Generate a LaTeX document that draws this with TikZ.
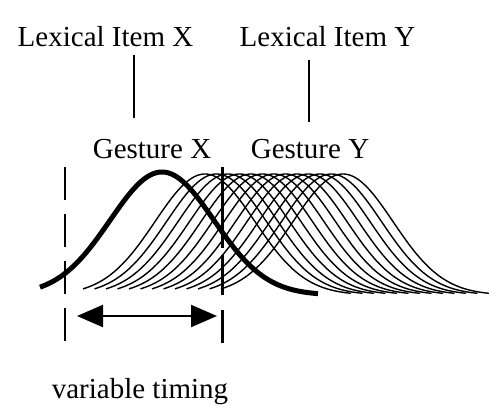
\documentclass[tikz,border=0pt]{standalone}
\usepackage{fontspec}
\setmainfont{Liberation Serif}
\usetikzlibrary{arrows.meta}
\begin{document}
\begin{tikzpicture}[x=1pt, y=-1pt, every node/.style={font=\fontsize{29}{34}\selectfont, inner sep=0pt}]
\useasboundingbox (0,0) rectangle (489,408);
\node[anchor=base] (lexX) at (105.5,46) {Lexical Item X};
\node[anchor=base] (lexY) at (327.5,46) {Lexical Item Y};
\node[anchor=base] (gesX) at (152,158) {Gesture X};
\node[anchor=base] (gesY) at (310,158) {Gesture Y};
\node[anchor=base] (timing) at (140,398) {variable timing};
% ticks from the lexical items
\coordinate (tXa) at (134,55); \coordinate (tXb) at (134,118);
\coordinate (tYa) at (309,60); \coordinate (tYb) at (309,122);
\draw[line width=1.8pt] (tXa) -- (tXb);
\draw[line width=1.8pt] (tYa) -- (tYb);
% gesture Y at shifted timings
\foreach \i in {0,...,12}{
  \pgfmathsetmacro{\mu}{205+11.5*\i}
  \draw[line width=1.4pt, domain={\mu-122}:{\mu+146}, samples=90, smooth]
    plot (\x, {295-121*exp(-((\x-\mu)/50)^2/2)});
}
% gesture X
\draw[line width=5pt, domain=40:318, samples=90, smooth]
  plot (\x, {295-123*exp(-((\x-162)/52)^2/2)});
% limits of the timing window
\coordinate (wLa) at (65,167); \coordinate (wLb) at (65,342);
\coordinate (wRa) at (222.5,167); \coordinate (wRb) at (222.5,343);
\draw[line width=2.2pt, dash pattern=on 33pt off 14pt] (wLa) -- (wLb);
\draw[line width=2.2pt, dash pattern=on 81pt off 7pt on 40pt off 15pt on 40pt] (wRa) -- (wRb);
\coordinate (aL) at (77,316); \coordinate (aR) at (217,316);
\draw[{Triangle[length=26pt,width=22pt]}-{Triangle[length=26pt,width=22pt]}, line width=2.2pt] (aL) -- (aR);
\end{tikzpicture}
\end{document}
